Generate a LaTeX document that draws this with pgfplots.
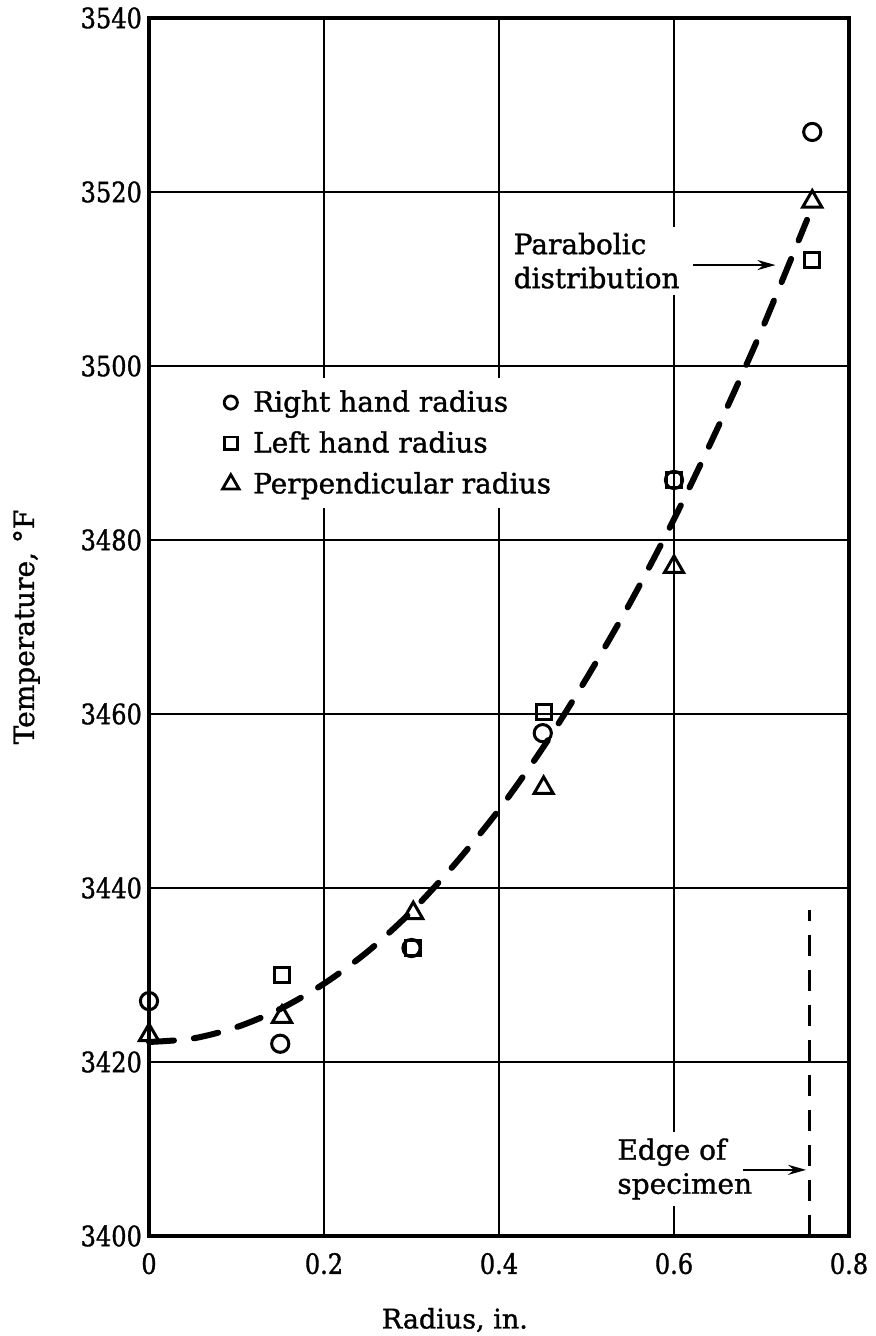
\documentclass[border=0pt]{standalone}
\usepackage{fontspec}
\setmainfont{DejaVu Serif}[FakeBold=1.2]
\newfontfamily\tickfont{DejaVu Serif}[FakeBold=1.2, FakeStretch=0.86]
\usepackage{pgfplots}
\pgfplotsset{compat=1.18}
\usetikzlibrary{arrows.meta}
\begin{document}
\begin{tikzpicture}
\useasboundingbox (-74.5pt,-50pt) rectangle (363pt,618pt);
\begin{axis}[
  scale only axis,
  width=350pt, height=609pt,
  xmin=0, xmax=0.8, ymin=3400, ymax=3540,
  xtick={0,0.2,0.4,0.6,0.8},
  xticklabels={0,0.2,0.4,0.6,0.8},
  ytick={3400,3420,...,3540},
  /pgf/number format/assume math mode=true,
  /pgf/number format/1000 sep={},
  grid=major,
  major grid style={black, line width=0.9pt},
  axis line style={line width=1.9pt},
  major tick length=0pt,
  tick label style={font=\tickfont\fontsize{14}{16}\selectfont},
  xticklabel style={yshift=-5pt},
  clip=false,
  xlabel={Radius, in.},
  ylabel={Temperature, °F},
  xlabel style={at={(axis description cs:0.437,-0.069)}, anchor=center, font=\fontsize{13.5}{16}\selectfont},
  ylabel style={at={(axis description cs:-0.175,0.5)}, anchor=center, font=\fontsize{14}{16}\selectfont},
  legend cell align=left,
  legend style={at={(axis cs:0.0744,3491.1)}, anchor=west, draw=none, fill=white,
    font=\fontsize{14}{16}\selectfont, row sep=4.3pt, inner xsep=4pt, inner ysep=4pt,
    /tikz/every odd column/.append style={column sep=5pt}},
]
% parabolic distribution curve
\addplot[forget plot, black, line width=3pt, line cap=round, dash pattern=on 12.5pt off 10pt, smooth]
  coordinates {(0,3422.3) (0.05,3422.7) (0.1,3424.0) (0.15,3426.1) (0.2,3429.0) (0.25,3432.7)
  (0.3,3437.3) (0.35,3442.8) (0.4,3449.0) (0.45,3456.1) (0.5,3464.1) (0.55,3472.8)
  (0.6,3482.4) (0.65,3492.9) (0.7,3504.1) (0.752,3516.8)};
% edge of specimen
\addplot[forget plot, black, line width=1.7pt, dash pattern=on 10.5pt off 7pt]
  coordinates {(0.755,3400) (0.755,3437.5)};
% right hand radius
\addplot[forget plot, only marks, mark=o, mark size=4.3pt, mark options={line width=1.5pt, fill=white}]
  coordinates {(0,3427) (0.15,3422.1) (0.3,3433.1) (0.45,3457.8) (0.6,3486.9) (0.758,3526.9)};
% left hand radius
\addplot[forget plot, only marks, mark=square, mark size=3.8pt, mark options={line width=1.5pt}]
  coordinates {(0.152,3430) (0.302,3433.1) (0.451,3460.2) (0.6,3486.9) (0.758,3512.2)};
% perpendicular radius
\addplot[forget plot, only marks, mark=triangle, mark size=5.5pt, mark options={line width=1.5pt}]
  coordinates {(0,3423.1) (0.152,3425.2) (0.302,3437.1) (0.451,3451.5) (0.6,3476.9) (0.758,3518.9)};
\addlegendimage{only marks, mark=o, mark size=3.3pt, mark options={line width=1.4pt}}
\addlegendentry{Right hand radius}
\addlegendimage{only marks, mark=square, mark size=3.2pt, mark options={line width=1.4pt}}
\addlegendentry{Left hand radius}
\addlegendimage{only marks, mark=triangle, mark size=4.8pt, mark options={line width=1.4pt}}
\addlegendentry{Perpendicular radius}
% annotations
\node[fill=white, anchor=east, align=left, inner sep=3pt, font=\fontsize{14}{17}\selectfont]
  at (axis cs:0.6137,3512.1) {Parabolic\\distribution};
\draw[line width=1.2pt, -{Stealth[length=9pt,width=5pt]}] (axis cs:0.622,3511.6) -- (axis cs:0.716,3511.6);
\node[fill=white, anchor=west, align=left, inner sep=3pt, font=\fontsize{14}{17}\selectfont]
  at (axis cs:0.528,3407.7) {Edge of\\specimen};
\draw[line width=1.2pt, -{Stealth[length=9pt,width=5pt]}] (axis cs:0.679,3407.6) -- (axis cs:0.751,3407.6);
\end{axis}
\end{tikzpicture}
\end{document}
